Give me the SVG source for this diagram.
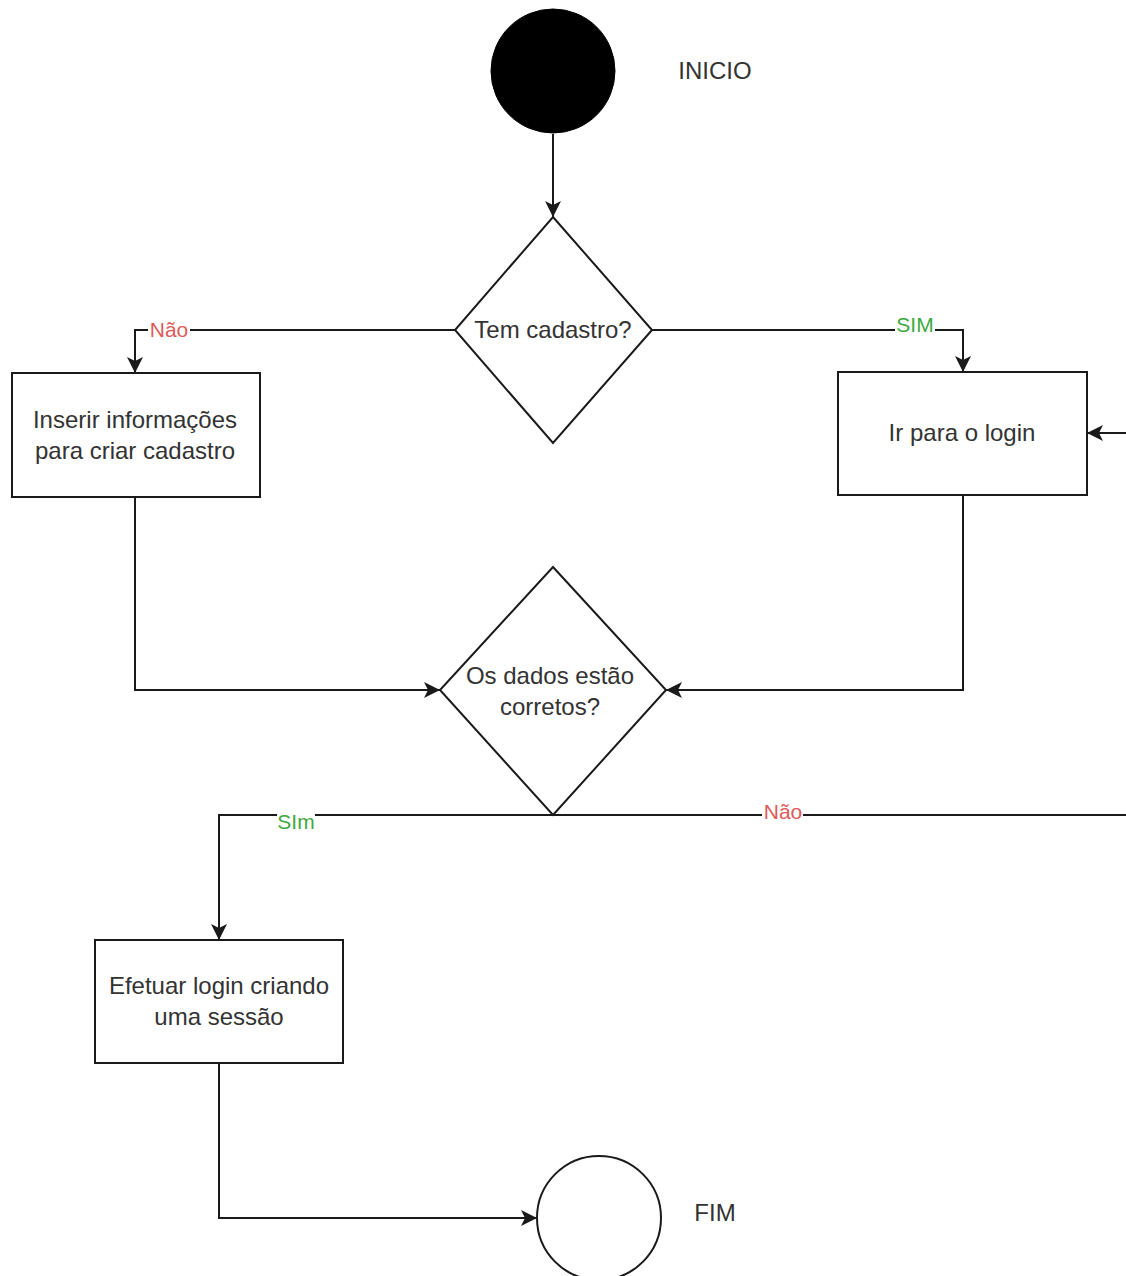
<svg xmlns="http://www.w3.org/2000/svg" width="1126" height="1276" viewBox="0 0 1126 1276">
<style>
.shape{fill:#fff;stroke:#1a1a1a;stroke-width:2}
.txt{font-family:"Liberation Sans",Arial,sans-serif;font-size:24px;fill:#333;text-anchor:middle}
.conn{fill:none;stroke:#1a1a1a;stroke-width:2}
.lbl{font-family:"Liberation Sans",Arial,sans-serif;font-size:21px;text-anchor:middle}
.red{fill:#e05a5a}
.green{fill:#3daa3d}
.bg{fill:#fff}
</style>
<defs>
<marker id="arr" markerUnits="userSpaceOnUse" markerWidth="18" markerHeight="16" refX="16" refY="8" orient="auto">
<path d="M0,0 L16,8 L0,16 L4,8 z" fill="#1a1a1a"/>
</marker>
</defs>
<rect width="1126" height="1276" fill="#fff"/>
<g id="connectors">
<path class="conn" d="M553,134 L553,217" marker-end="url(#arr)"/>
<path class="conn" d="M455,330 L135,330 L135,373" marker-end="url(#arr)"/>
<path class="conn" d="M652,330 L963,330 L963,372" marker-end="url(#arr)"/>
<path class="conn" d="M1126,433 L1087,433" marker-end="url(#arr)"/>
<path class="conn" d="M135,497 L135,690 L440,690" marker-end="url(#arr)"/>
<path class="conn" d="M963,495 L963,690 L666,690" marker-end="url(#arr)"/>
<path class="conn" d="M553,815 L219,815 L219,940" marker-end="url(#arr)"/>
<path class="conn" d="M553,815 L1126,815"/>
<path class="conn" d="M219,1063 L219,1218 L537,1218" marker-end="url(#arr)"/>
<rect class="bg" x="148" y="320" width="42" height="20"/>
<text class="lbl red" x="169" y="337">Não</text>
<rect class="bg" x="895" y="314" width="40" height="20"/>
<text class="lbl green" x="915" y="332">SIM</text>
<rect class="bg" x="277" y="812" width="38" height="20"/>
<text class="lbl green" x="296" y="829">SIm</text>
<rect class="bg" x="762" y="802" width="41" height="18"/>
<text class="lbl red" x="783" y="819">Não</text>
</g>
<g id="inicio">
<circle cx="553" cy="71" r="62" fill="#000" stroke="#000" stroke-width="1"/>
<text class="txt" x="715" y="79">INICIO</text>
</g>
<g id="tem-cadastro">
<polygon class="shape" points="553,217 652,330 553,443 455,330"/>
<text class="txt" x="553" y="338">Tem cadastro?</text>
</g>
<g id="inserir">
<rect class="shape" x="12" y="373" width="248" height="124"/>
<text class="txt" x="135" y="428">Inserir informações</text>
<text class="txt" x="135" y="459">para criar cadastro</text>
</g>
<g id="login">
<rect class="shape" x="838" y="372" width="249" height="123"/>
<text class="txt" x="962" y="441">Ir para o login</text>
</g>
<g id="dados-corretos">
<polygon class="shape" points="553,567 666,690 553,815 440,690"/>
<text class="txt" x="550" y="684">Os dados estão</text>
<text class="txt" x="550" y="715">corretos?</text>
</g>
<g id="efetuar">
<rect class="shape" x="95" y="940" width="248" height="123"/>
<text class="txt" x="219" y="994">Efetuar login criando</text>
<text class="txt" x="219" y="1025">uma sessão</text>
</g>
<g id="fim">
<circle class="shape" cx="599" cy="1218" r="62"/>
<text class="txt" x="715" y="1221">FIM</text>
</g>
</svg>
